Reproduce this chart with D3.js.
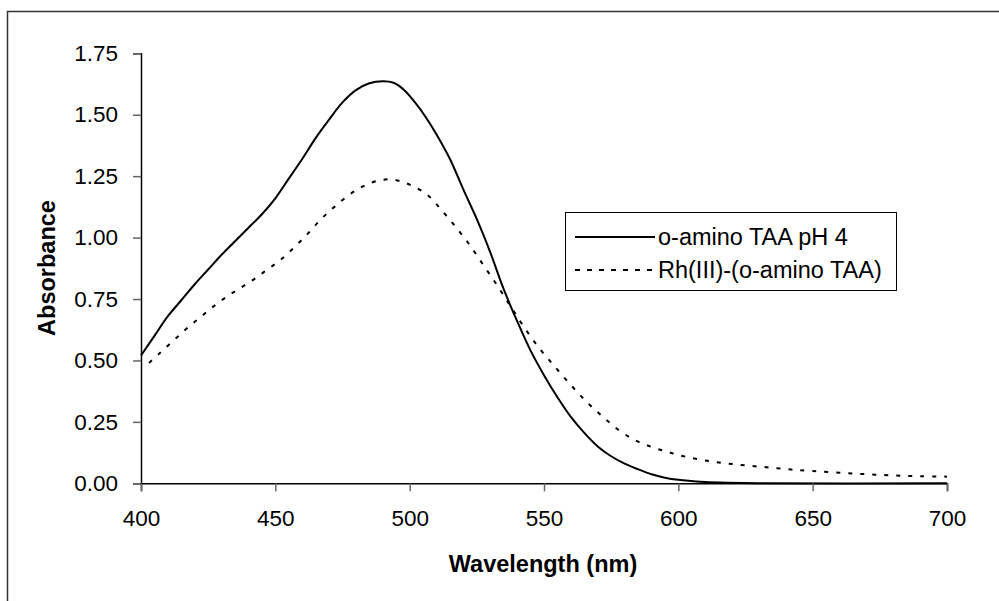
<!DOCTYPE html>
<html><head><meta charset="utf-8">
<script src="https://cdn.jsdelivr.net/npm/d3@7"></script>
<style>body{margin:0;background:#fff;} svg{display:block;font-family:Arial,"Liberation Sans",sans-serif;}</style>
</head><body>
<svg id="chart" width="999" height="601"></svg>
<script>
const xTicks = [400, 450, 500, 550, 600, 650, 700];
const yTicks = [0, 0.25, 0.5, 0.75, 1.0, 1.25, 1.5, 1.75];
const seriesNames = ["o-amino TAA pH 4", "Rh(III)-(o-amino TAA)"];
const wlSolid = [400,405,410,415,420,425,430,435,440,445,450,455,460,465,470,475,480,485,490,494,498,502,506,510,515,520,525,530,535,540,545,550,555,560,565,570,575,580,585,590,595,600,605,610,618,630,700];
const absSolid = [0.52,0.60,0.68,0.745,0.81,0.87,0.93,0.985,1.04,1.095,1.16,1.24,1.32,1.405,1.48,1.55,1.60,1.628,1.636,1.630,1.60,1.55,1.49,1.42,1.32,1.195,1.075,0.94,0.79,0.66,0.54,0.44,0.35,0.27,0.205,0.15,0.11,0.08,0.057,0.037,0.023,0.014,0.009,0.005,0.002,0.0,0.0];
const wlDash = [403,407,412,417,422,427,432,437,442,447,452,457,462,467,472,477,482,487,492,497,502,507,512,517,522,527,532,537,542,548,554,560,566,572,578,584,590,596,602,610,618,626,634,642,650,660,670,680,690,700];
const absDash = [0.49,0.53,0.58,0.63,0.675,0.72,0.76,0.795,0.83,0.87,0.91,0.96,1.015,1.075,1.125,1.17,1.205,1.228,1.237,1.228,1.205,1.17,1.11,1.045,0.975,0.895,0.815,0.73,0.645,0.553,0.475,0.40,0.33,0.27,0.215,0.175,0.148,0.128,0.11,0.093,0.081,0.072,0.064,0.056,0.05,0.043,0.037,0.032,0.029,0.027];

const svg = d3.select("#chart");
svg.append("rect").attr("x",7.5).attr("y",11.5).attr("width",1000).attr("height",600)
  .attr("fill","none").attr("stroke","#333").attr("stroke-width",1.5);

const x = d3.scaleLinear().domain([400,700]).range([141,947]);
const y = d3.scaleLinear().domain([0,1.75]).range([483.3,53.3]);

const line = d3.line().x(d=>x(d[0])).y(d=>y(d[1])).curve(d3.curveCatmullRom.alpha(0.5));
const solidData = wlSolid.map((w,i)=>[w,absSolid[i]]);
const dashData = wlDash.map((w,i)=>[w,absDash[i]]);

svg.append("path").datum(dashData).attr("d",line).attr("fill","none")
  .attr("stroke","#000").attr("stroke-width",2).attr("stroke-dasharray","4,8");
svg.append("path").datum(solidData).attr("d",line).attr("fill","none")
  .attr("stroke","#000").attr("stroke-width",2);

const yAxis = svg.append("g").attr("transform","translate(141,0)")
  .call(d3.axisLeft(y).tickValues(yTicks).tickFormat(d3.format(".2f")).tickSizeOuter(0).tickSize(8).tickPadding(15));
const xAxis = svg.append("g").attr("transform","translate(0,483.3)")
  .call(d3.axisBottom(x).tickValues(xTicks).tickFormat(d3.format("d")).tickSizeOuter(0).tickSize(8).tickPadding(19));
[yAxis,xAxis].forEach(a=>{
  a.select(".domain").attr("stroke","#000").attr("stroke-width",1.5);
  a.selectAll(".tick line").attr("stroke","#666").attr("stroke-width",1.5);
  a.selectAll("text").attr("font-size",22.5).attr("fill","#000").attr("font-family","Arial, 'Liberation Sans', sans-serif");
});

svg.append("text").attr("x",543).attr("y",572).attr("text-anchor","middle")
  .attr("font-size",23.5).attr("font-weight","bold").text("Wavelength (nm)");
svg.append("text").attr("transform","translate(55,268) rotate(-90)").attr("text-anchor","middle")
  .attr("font-size",23.5).attr("font-weight","bold").text("Absorbance");

const lg = svg.append("g");
lg.append("rect").attr("x",565.5).attr("y",212.5).attr("width",331).attr("height",78)
  .attr("fill","#fff").attr("stroke","#000").attr("stroke-width",1);
const rows = [237, 270];
const dashes = [null, "5,7"];
seriesNames.forEach((n,i)=>{
  const l = lg.append("line").attr("x1",575).attr("x2",655).attr("y1",rows[i]).attr("y2",rows[i])
    .attr("stroke","#000").attr("stroke-width",2);
  if (dashes[i]) l.attr("stroke-dasharray",dashes[i]);
  lg.append("text").attr("x",658).attr("y",rows[i]+8).attr("font-size",23.5).text(n);
});
</script>
</body></html>
